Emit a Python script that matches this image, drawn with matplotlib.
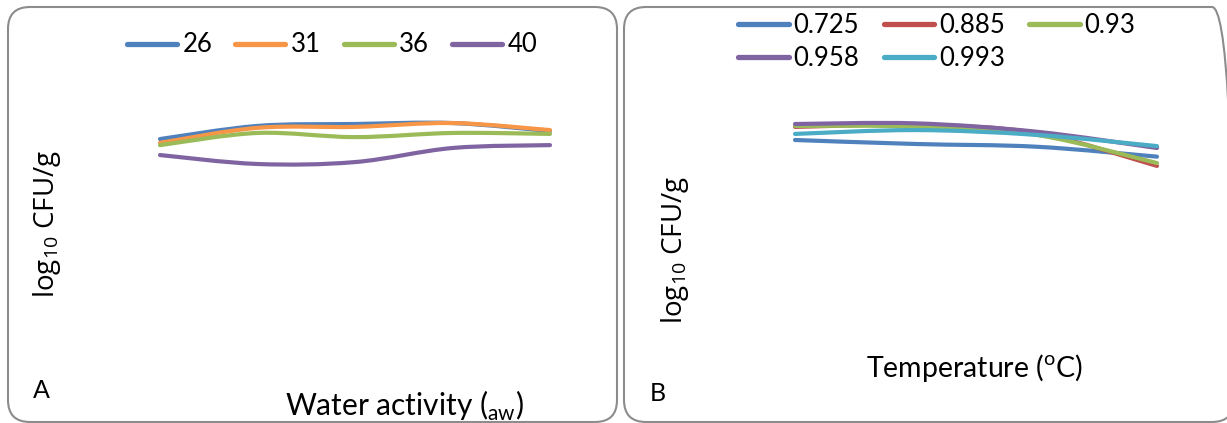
import matplotlib
matplotlib.use("Agg")
import matplotlib.pyplot as plt
from matplotlib.patches import FancyBboxPatch, PathPatch
from matplotlib.path import Path
from matplotlib.lines import Line2D
from matplotlib.transforms import IdentityTransform
import numpy as np

W, H = 1227, 423

# ---- data ----
aw_levels = ["0.725", "0.885", "0.93", "0.958", "0.993"]
temps = ["26", "31", "36", "40"]

# Panel A: log10 CFU/g vs water activity, one series per temperature
a_26 = [7.53, 7.94, 8.00, 8.03, 7.78]
a_31 = [7.41, 7.88, 7.91, 8.03, 7.81]
a_36 = [7.34, 7.72, 7.59, 7.72, 7.69]
a_40 = [7.03, 6.75, 6.81, 7.25, 7.34]

# Panel B: log10 CFU/g vs temperature, one series per water activity
b_0725 = [7.50, 7.375, 7.29, 6.98]
b_0885 = [7.91, 7.97, 7.72, 6.69]
b_093 = [7.94, 7.92, 7.66, 6.78]
b_0958 = [8.00, 8.02, 7.76, 7.25]
b_0993 = [7.69, 7.81, 7.66, 7.31]

BLUE, RED, GREEN, PURPLE, CYAN, ORANGE = "#4F81BD", "#C0504D", "#9BBB59", "#8064A2", "#4BACC6", "#F79646"

FONT = "Lato"
plt.rcParams['font.family'] = [FONT, 'DejaVu Sans']
plt.rcParams['mathtext.fontset'] = 'custom'
plt.rcParams['mathtext.rm'] = FONT


def smooth_path(xs, ys):
    pts = np.column_stack([xs, ys]).astype(float)
    n = len(pts)
    verts = [pts[0]]
    codes = [Path.MOVETO]
    for i in range(n - 1):
        p0 = pts[i - 1] if i > 0 else pts[i]
        p3 = pts[i + 2] if i + 2 < n else pts[i + 1]
        c1 = pts[i] + (pts[i + 1] - p0) / 6.0
        c2 = pts[i + 1] - (p3 - pts[i]) / 6.0
        verts += [c1, c2, pts[i + 1]]
        codes += [Path.CURVE4] * 3
    return Path(verts, codes)


def draw_series(ax, ys, color):
    xs = np.arange(len(ys))
    ax.add_patch(PathPatch(smooth_path(xs, ys), facecolor='none', edgecolor=color,
                           lw=3.0, capstyle='round', joinstyle='round'))


fig = plt.figure(figsize=(W / 100, H / 100), dpi=100)

# panel borders
for (x0, x1) in [(8, 617), (624, 1234)]:
    fig.patches.append(FancyBboxPatch((x0, H - 422), x1 - x0, 415,
                                      boxstyle="round,pad=0,rounding_size=22",
                                      transform=IdentityTransform(), facecolor='none',
                                      edgecolor='#8c8c8c', lw=1.5, figure=fig))


def px_axes(left, right, top, bottom):
    return fig.add_axes([left / W, 1 - bottom / H, (right - left) / W, (bottom - top) / H])


def clean(ax):
    for s in ax.spines.values():
        s.set_visible(False)
    ax.set_xticks([])
    ax.set_yticks([])
    ax.patch.set_alpha(0)


YMIN, YMAX = 0, 10

# ---- Panel A ----
axA = px_axes(111.25, 598.75, 60, 380)
clean(axA)
axA.set_xlim(-0.5, len(aw_levels) - 0.5)
axA.set_ylim(YMIN, YMAX)
seriesA = [(a_26, BLUE, temps[0]), (a_31, ORANGE, temps[1]), (a_36, GREEN, temps[2]), (a_40, PURPLE, temps[3])]
for ys, c, lab in seriesA:
    draw_series(axA, ys, c)
hA = [Line2D([], [], color=c, lw=3.8, solid_capstyle='round') for _, c, _ in seriesA]
fig.legend(hA, [l for _, _, l in seriesA], loc='center', bbox_to_anchor=(332 / W, 1 - 45 / H),
           ncol=4, frameon=False, fontsize=18.5, handlelength=1.95, handletextpad=0.2,
           columnspacing=0.9, borderpad=0)

# ---- Panel B ----
axB = px_axes(734.7, 1217.3, 60, 380)
clean(axB)
axB.set_xlim(-0.5, len(temps) - 0.5)
axB.set_ylim(YMIN, YMAX)
seriesB = [(b_0725, BLUE, aw_levels[0]), (b_0885, RED, aw_levels[1]), (b_093, GREEN, aw_levels[2]),
           (b_0958, PURPLE, aw_levels[3]), (b_0993, CYAN, aw_levels[4])]
for ys, c, lab in seriesB:
    draw_series(axB, ys, c)
order = [0, 3, 1, 4, 2]
hB = [Line2D([], [], color=seriesB[i][1], lw=3.8, solid_capstyle='round') for i in order]
fig.legend(hB, [seriesB[i][2] for i in order], loc='center', bbox_to_anchor=(937 / W, 1 - 42 / H),
           ncol=3, frameon=False, fontsize=18.5, handlelength=1.95, handletextpad=0.2,
           columnspacing=0.95, labelspacing=0.3, borderpad=0)

# ---- texts ----
def ftext(x, y, s, **kw):
    return fig.text(x / W, 1 - y / H, s, **kw)

ftext(33, 390, "A", fontsize=18, ha='left', va='center')
ftext(650, 393, "B", fontsize=18, ha='left', va='center')
ftext(404, 406, r"Water activity ($_\mathregular{aw}$)", fontsize=21.5, ha='center', va='center')
ftext(975, 368, r"Temperature ($^\mathregular{o}$C)", fontsize=20.5, ha='center', va='center')

YL = "log$_{\\mathregular{10}}$ CFU/g"
for (x, y) in [(47, 224), (675, 250)]:
    with plt.rc_context({'mathtext.rm': 'Open Sans'}):
        ftext(x, y, YL, fontsize=20, rotation=90, ha='center', va='center',
              family=['Open Sans', 'DejaVu Sans'])

fig.savefig("out.png", dpi=100)
